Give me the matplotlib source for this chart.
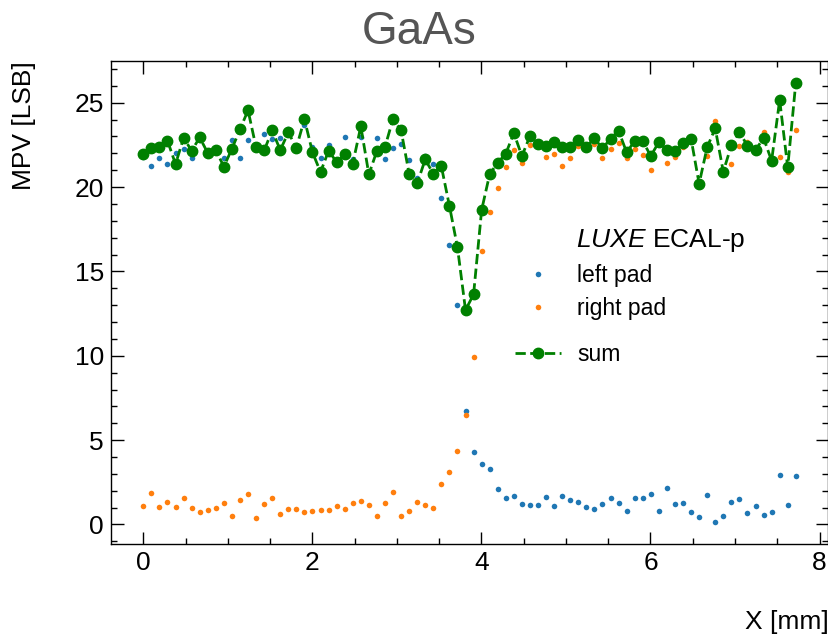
import numpy as np
import matplotlib.pyplot as plt
from matplotlib.ticker import MultipleLocator

plt.rcParams['font.family'] = ['Liberation Sans', 'DejaVu Sans']
plt.rcParams['mathtext.fontset'] = 'custom'
plt.rcParams['mathtext.rm'] = 'Liberation Sans'
plt.rcParams['mathtext.it'] = 'Liberation Sans:italic'

# scan positions [mm], 82 steps
x_step = 0.0953
x_mm = np.arange(82) * x_step

left_pad = [21.80, 21.25, 21.74, 21.34, 22.00, 22.25, 21.72, 22.80, 22.00, 22.10,
            21.74, 22.81, 21.70, 22.77, 22.30, 23.12, 22.83, 22.92, 23.44, 22.30,
            23.68, 22.35, 21.74, 22.47, 21.50, 22.96, 21.68, 22.98, 20.70, 22.89,
            21.68, 22.33, 22.57, 21.58, 20.51, 21.86, 21.36, 19.33, 16.57, 12.99,
            6.73, 4.32, 3.61, 3.29, 2.10, 1.59, 1.67, 1.23, 1.14, 1.14,
            1.61, 1.08, 1.71, 1.47, 1.33, 1.04, 0.94, 1.22, 1.59, 1.26,
            0.80, 1.55, 1.55, 1.81, 0.78, 2.15, 1.22, 1.27, 0.74, 0.46,
            1.77, 0.15, 0.52, 1.33, 1.51, 0.66, 1.08, 0.58, 0.72, 2.93,
            1.14, 2.86]

right_pad = [1.12, 1.89, 1.04, 1.31, 1.04, 1.57, 1.00, 0.74, 0.88, 0.98,
             1.27, 0.48, 1.47, 1.79, 0.39, 1.19, 1.59, 0.62, 0.94, 0.94,
             0.72, 0.78, 0.86, 0.86, 1.12, 0.90, 1.27, 1.39, 1.17, 0.48,
             1.27, 1.91, 0.48, 0.80, 1.33, 1.14, 1.00, 2.38, 3.11, 4.36,
             6.49, 9.91, 16.21, 18.54, 19.96, 21.22, 22.20, 21.42, 22.51, 22.50,
             21.80, 21.94, 21.23, 21.74, 22.41, 22.40, 22.57, 21.72, 22.25, 22.61,
             21.72, 22.27, 21.90, 21.03, 22.60, 21.44, 21.76, 22.35, 22.80, 20.10,
             21.82, 23.91, 20.90, 21.34, 22.44, 22.69, 22.10, 23.26, 21.50, 21.80,
             20.87, 23.36]

pad_sum = [21.94, 22.29, 22.35, 22.75, 21.36, 22.92, 22.15, 22.94, 22.02, 22.19,
           21.21, 22.27, 23.42, 24.55, 22.35, 22.17, 23.36, 22.19, 23.24, 22.33,
           24.03, 22.06, 20.89, 22.15, 21.48, 21.94, 21.38, 23.60, 20.75, 22.15,
           22.37, 24.05, 23.36, 20.79, 20.22, 21.64, 20.79, 21.23, 18.89, 16.43,
           12.71, 13.64, 18.64, 20.77, 21.44, 21.98, 23.20, 21.84, 23.02, 22.57,
           22.45, 22.67, 22.37, 22.37, 22.79, 22.39, 22.89, 22.29, 22.87, 23.34,
           22.06, 22.73, 22.73, 21.84, 22.67, 22.19, 22.11, 22.59, 22.87, 20.20,
           22.37, 23.48, 20.91, 22.47, 23.26, 22.45, 22.19, 22.91, 21.56, 25.16,
           21.17, 26.19]

W, H = 829, 636
fig = plt.figure(figsize=(W / 100, H / 100), dpi=100)
ax = fig.add_axes([110.7 / W, (H - 543.9) / H, (828.4 - 110.7) / W, (543.9 - 60.7) / H])

h_left, = ax.plot(x_mm, left_pad, 'o', color='#1f77b4', ms=4, mew=0, label='left pad')
h_right, = ax.plot(x_mm, right_pad, 'o', color='#ff7f0e', ms=4, mew=0, label='right pad')
h_sum, = ax.plot(x_mm, pad_sum, 'o--', color='green', ms=7.5, lw=2, label='sum')

ax.xaxis.set_major_locator(MultipleLocator(2))
ax.xaxis.set_minor_locator(MultipleLocator(0.5))
ax.yaxis.set_major_locator(MultipleLocator(5))
ax.yaxis.set_minor_locator(MultipleLocator(1))
ax.tick_params(which='both', direction='in', top=True, right=True, width=1)
ax.tick_params(which='major', length=9, labelsize=19, pad=5)
ax.tick_params(which='minor', length=4.5)
for sp in ax.spines.values():
    sp.set_linewidth(1)

fig.text(419.5 / W, (H - 44) / H, 'GaAs', fontsize=33, color='#555555',
         ha='center', va='baseline')
fig.text(828.4 / W, (H - 629) / H, 'X [mm]', fontsize=19, ha='right', va='baseline')
fig.text(24 / W, (H - 61) / H, 'MPV [LSB]', fontsize=19, rotation=90,
         ha='center', va='top')

fig.text(576 / W, (H - 247) / H, r'$\mathit{LUXE}$ ECAL-p', fontsize=19,
         ha='left', va='baseline')

leg_kw = dict(loc='upper left', bbox_transform=fig.transFigure, frameon=False,
              fontsize=16.5, handlelength=2.0, handletextpad=0.7,
              labelspacing=0.45, borderaxespad=0, borderpad=0)
leg_pads = ax.legend(handles=[h_left, h_right],
                     bbox_to_anchor=(515 / W, (H - 264) / H), **leg_kw)
ax.add_artist(leg_pads)
ax.legend(handles=[h_sum], bbox_to_anchor=(515 / W, (H - 343) / H), **leg_kw)

fig.savefig('out.png', dpi=100)
